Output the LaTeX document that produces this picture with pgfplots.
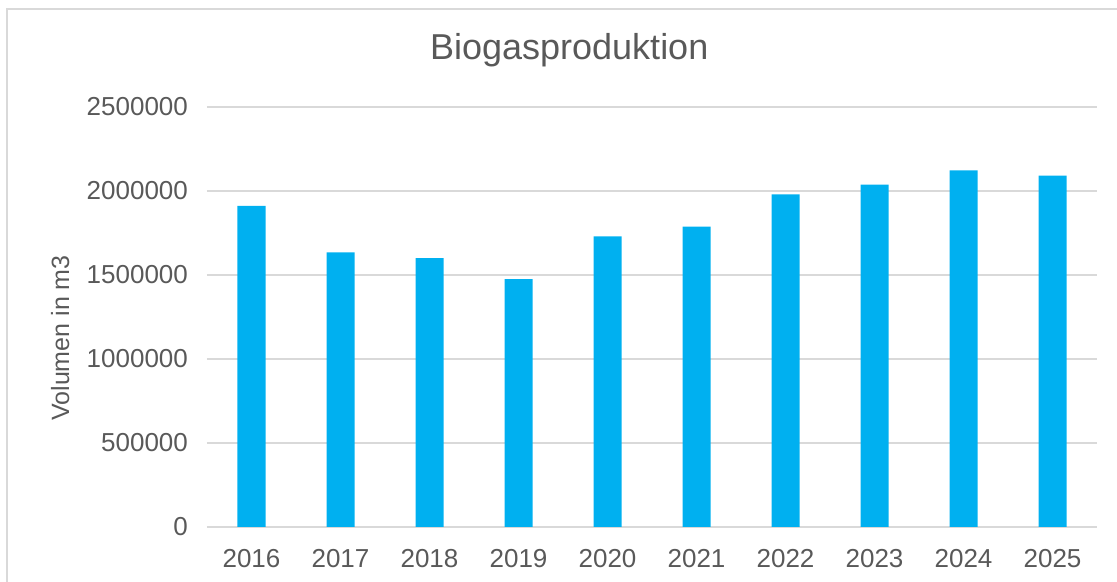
\documentclass[border=0pt]{standalone}
\usepackage{fontspec}
\setmainfont{Liberation Sans}
\usepackage{pgfplots}
\pgfplotsset{compat=1.18}
\definecolor{barblue}{HTML}{00B0F0}
\definecolor{txtgray}{HTML}{595959}
\definecolor{gridgray}{HTML}{D9D9D9}
\begin{document}
\begin{tikzpicture}
% 1 px of the reference = 0.5pt
\path[use as bounding box] (-103.5pt,-27.5pt) rectangle (455pt,263.5pt);
\draw[gridgray, line width=0.6pt] (-100pt,-27.5pt) -- (-100pt,259pt) -- (455pt,259pt);
\begin{axis}[
    at={(0,0)}, anchor=south west,
    scale only axis,
    width=445pt, height=210pt,
    xmin=-0.5, xmax=9.5,
    ymin=0, ymax=2500000,
    ytick={0,500000,1000000,1500000,2000000,2500000},
    xtick={0,...,9},
    xticklabels={2016,2017,2018,2019,2020,2021,2022,2023,2024,2025},
    scaled y ticks=false,
    /pgf/number format/.cd, fixed, 1000 sep={}, assume math mode=true,
    /pgfplots/.cd,
    axis line style={draw=none},
    axis x line*=bottom,
    major tick length=0pt,
    ymajorgrids,
    grid style={gridgray, line width=0.7pt},
    extra y ticks={0},
    extra y tick style={grid style={gridgray, line width=1pt}, yticklabels={}},
    tick label style={font=\fontsize{13}{15}\selectfont, text=txtgray},
    yticklabel style={xshift=-6pt},
    xticklabel style={yshift=-7.5pt},
    ylabel={Volumen in m3},
    ylabel style={font=\fontsize{12.5}{14}\selectfont, text=txtgray,
        at={(axis description cs:-0.165,0.45)}, anchor=center},
    title={Biogasproduktion},
    title style={font=\fontsize{18}{21}\selectfont, text=txtgray,
        at={(axis description cs:0.407,1.085)}, anchor=base},
    clip=false,
]
\addplot[ybar, bar width=14pt, fill=barblue, draw=none] coordinates {
    (0,1912000)
    (1,1635000)
    (2,1600000)
    (3,1476000)
    (4,1730000)
    (5,1788000)
    (6,1980000)
    (7,2038000)
    (8,2123000)
    (9,2091000)
};
\end{axis}
\end{tikzpicture}
\end{document}
